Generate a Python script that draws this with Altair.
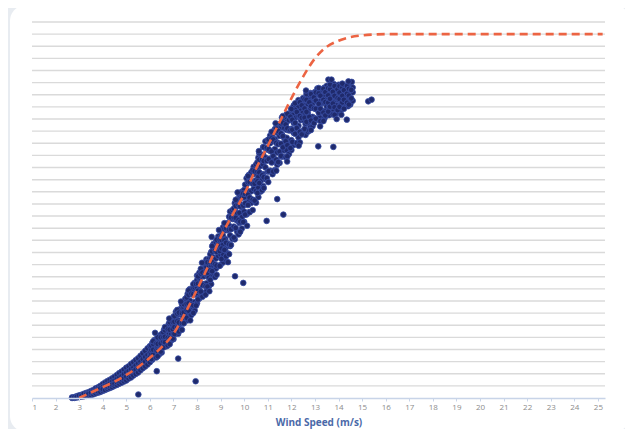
import altair as alt
import pandas as pd

# ---------------- data ----------------
x_ticks = list(range(1, 26))
grid_levels = [100 * i for i in range(1, 32)]  # horizontal guide lines (no labels)

# manufacturer power curve (dashed)
curve_ws = [3, 3.5, 4, 4.5, 5, 5.5, 6, 6.5, 7, 7.5, 8, 8.5, 9, 9.5, 10, 10.5, 11,
            11.5, 12, 12.5, 13, 13.5, 14, 14.5, 15, 15.5, 16, 20, 25.2]
curve_kw = [0, 45, 90, 135, 190, 255, 332, 420, 530, 702, 895, 1100, 1325, 1510, 1680,
            1890, 2080, 2275, 2470, 2650, 2800, 2895, 2945, 2975, 2990, 2997, 3000, 3000, 3000]

# measured 10-min points, grouped by wind speed (m/s -> kW values)
scatter_columns = {
    2.7: [0, 5], 2.8: [1, 8], 2.9: [4, 15, 9], 3.0: [7, 22], 3.1: [11, 27, 17],
    3.2: [14, 35], 3.3: [18, 42, 30], 3.4: [22, 48, 36], 3.5: [25, 58, 44],
    3.6: [30, 66, 50], 3.7: [38, 80, 60], 3.8: [44, 88, 70, 55], 3.9: [50, 100, 80],
    4.0: [58, 115, 90, 72], 4.1: [66, 128, 98], 4.2: [75, 140, 110, 92],
    4.3: [82, 150, 120, 100], 4.4: [90, 162, 135, 110], 4.5: [100, 175, 142, 118],
    4.6: [108, 190, 155, 130], 4.7: [118, 205, 168, 140], 4.8: [126, 218, 180, 152],
    4.9: [136, 232, 196, 160], 5.0: [145, 250, 210, 175], 5.1: [160, 262, 222, 190],
    5.2: [170, 280, 238, 205], 5.3: [185, 295, 250, 222], 5.4: [198, 312, 268, 235],
    5.5: [210, 328, 285, 250], 5.6: [228, 348, 300, 268], 5.7: [245, 368, 320, 282],
    5.8: [260, 388, 338, 300], 5.9: [276, 410, 355, 318], 6.0: [295, 428, 372, 338],
    6.1: [315, 357, 392, 426, 453], 6.2: [341, 384, 420, 455, 479],
    6.3: [371, 416, 452, 489], 6.4: [398, 440, 477, 515, 361],
    6.5: [375, 422, 464, 503, 528], 6.6: [422, 471, 502, 532, 563],
    6.7: [426, 472, 535, 567], 6.8: [476, 527, 570, 612],
    6.9: [474, 527, 571, 614, 648], 7.0: [530, 580, 625, 670, 485],
    7.1: [531, 587, 634, 680, 711], 7.2: [530, 588, 641, 689, 721],
    7.3: [566, 620, 697, 735], 7.4: [614, 675, 714, 754, 793],
    7.5: [651, 714, 766, 818], 7.6: [693, 752, 805, 858, 640],
    7.7: [681, 748, 802, 857, 899], 7.8: [704, 766, 853, 897],
    7.9: [721, 791, 854, 912, 950], 8.0: [782, 854, 913, 971, 1010],
    8.1: [821, 894, 941, 987, 1034], 8.2: [866, 941, 1002, 1064],
    8.3: [864, 940, 1003, 1065, 1114], 8.4: [945, 1016, 1080, 1144, 881],
    8.5: [919, 992, 1094, 1144], 8.6: [939, 1020, 1093, 1160, 1204],
    8.7: [1010, 1092, 1159, 1226, 1271], 8.8: [1067, 1150, 1218, 1286],
    8.9: [1087, 1171, 1225, 1278, 1332], 9.0: [1098, 1183, 1253, 1323, 1377],
    9.1: [1187, 1266, 1337, 1407, 1117], 9.2: [1143, 1230, 1310, 1382, 1429],
    9.3: [1193, 1274, 1386, 1443], 9.4: [1252, 1341, 1415, 1488, 1537],
    9.5: [1311, 1402, 1476, 1550], 9.6: [1308, 1399, 1474, 1549, 1607],
    9.7: [1371, 1463, 1521, 1580, 1638], 9.8: [1443, 1527, 1603, 1678, 1367],
    9.9: [1397, 1490, 1574, 1651, 1701], 10.0: [1452, 1537, 1656, 1716],
    10.1: [1513, 1607, 1684, 1761, 1812], 10.2: [1531, 1625, 1703, 1780, 1840],
    10.3: [1609, 1704, 1782, 1860], 10.4: [1627, 1723, 1784, 1845, 1906],
    10.5: [1610, 1706, 1794, 1873, 1925], 10.6: [1735, 1823, 1902, 1981, 1656],
    10.7: [1702, 1790, 1914, 1976], 10.8: [1748, 1846, 1926, 2006, 2068],
    10.9: [1803, 1901, 1982, 2062, 2116], 11.0: [1867, 1966, 2047, 2128],
    11.1: [1874, 1974, 2037, 2101, 2164], 11.2: [1845, 1945, 2036, 2118, 2173],
    11.3: [1961, 2053, 2135, 2218, 1879], 11.4: [1923, 2024, 2107, 2189, 2254],
    11.5: [1938, 2031, 2161, 2225], 11.6: [1989, 2091, 2174, 2258, 2313],
    11.7: [2040, 2142, 2225, 2308], 11.8: [2044, 2146, 2211, 2276, 2341],
    11.9: [2012, 2114, 2206, 2290, 2345], 12.0: [2127, 2220, 2303, 2387, 2044],
    12.1: [2085, 2185, 2267, 2349, 2413], 12.2: [2099, 2188, 2314, 2376],
    12.3: [2148, 2245, 2324, 2403, 2456], 12.4: [2196, 2291, 2369, 2447],
    12.5: [2201, 2294, 2354, 2414, 2473], 12.6: [2169, 2260, 2343, 2418, 2468],
    12.7: [2269, 2350, 2423, 2496, 2196], 12.8: [2231, 2318, 2389, 2460, 2515],
    12.9: [2241, 2318, 2426, 2480], 13.0: [2305, 2387, 2455, 2523],
    13.1: [2295, 2376, 2442, 2508, 2552], 13.2: [2314, 2393, 2444, 2494, 2545],
    13.3: [2284, 2362, 2432, 2496, 2538], 13.4: [2366, 2435, 2497, 2559, 2304],
    13.5: [2330, 2404, 2465, 2526, 2573], 13.6: [2332, 2398, 2491, 2537],
    13.7: [2380, 2451, 2509, 2567], 13.8: [2368, 2438, 2495, 2551, 2589],
    13.9: [2346, 2414, 2475, 2531, 2567], 14.0: [2391, 2457, 2499, 2541, 2583],
    14.1: [2422, 2479, 2530, 2582, 2371], 14.2: [2391, 2451, 2499, 2548],
    14.3: [2426, 2482, 2528, 2574], 14.4: [2405, 2453, 2520, 2553],
    14.5: [2420, 2470, 2530, 2575], 14.6: [2450, 2520, 2560],
}

# further points lying between the bins above
scatter_between = {
    6.06: [321, 362, 397, 431], 6.14: [359, 398, 445, 468], 6.27: [334, 390, 450],
    6.33: [385, 446, 500, 344], 6.46: [383, 450, 500], 6.57: [416, 463, 502, 541],
    6.64: [460, 505, 558, 585], 6.76: [433, 497, 566], 6.84: [492, 563, 625, 444],
    6.97: [490, 568, 627], 7.04: [528, 584, 629, 675], 7.16: [580, 632, 695, 726],
    7.23: [548, 623, 704], 7.36: [618, 700, 772, 562], 7.44: [616, 706, 774],
    7.56: [661, 724, 777, 829], 7.64: [720, 780, 851, 887], 7.76: [684, 769, 861],
    7.84: [763, 857, 938, 701], 7.96: [762, 864, 941], 8.04: [812, 884, 943, 1002],
    8.16: [877, 944, 1025, 1065], 8.23: [835, 931, 1034], 8.36: [922, 1027, 1118, 852],
    8.44: [919, 1033, 1119], 8.56: [973, 1053, 1119, 1185], 8.64: [1045, 1119, 1208, 1252],
    8.76: [997, 1102, 1215], 8.83: [1092, 1206, 1305, 1016], 8.96: [1089, 1212, 1304],
    9.04: [1147, 1232, 1303, 1373], 9.16: [1221, 1300, 1395, 1442], 9.23: [1168, 1280, 1400],
    9.36: [1267, 1388, 1494, 1186], 9.44: [1261, 1392, 1490], 9.56: [1323, 1413, 1488, 1562],
    9.64: [1402, 1485, 1584, 1634], 9.76: [1349, 1466, 1592], 9.83: [1454, 1580, 1689, 1370],
    9.96: [1451, 1586, 1687], 10.04: [1512, 1606, 1683, 1759], 10.16: [1591, 1676, 1779, 1830],
    10.23: [1532, 1652, 1781], 10.36: [1636, 1766, 1878, 1549], 10.44: [1628, 1767, 1871],
    10.56: [1690, 1786, 1865, 1944], 10.64: [1772, 1860, 1965, 2018], 10.76: [1712, 1836, 1969],
    10.83: [1820, 1954, 2069, 1731], 10.96: [1813, 1956, 2063], 11.04: [1871, 1970, 2051, 2132],
    11.16: [1942, 2032, 2141, 2195], 11.23: [1867, 1994, 2131], 11.36: [1965, 2103, 2222, 1874],
    11.44: [1945, 2092, 2202], 11.56: [1996, 2097, 2181, 2264], 11.64: [2066, 2159, 2270, 2325],
    11.76: [1986, 2116, 2255], 11.83: [2084, 2223, 2343, 1992], 11.96: [2060, 2208, 2319],
    12.04: [2111, 2212, 2294, 2376], 12.16: [2178, 2268, 2376, 2430], 12.23: [2102, 2226, 2358],
    12.36: [2194, 2325, 2438, 2107], 12.44: [2173, 2310, 2413], 12.56: [2219, 2311, 2387, 2462],
    12.64: [2277, 2359, 2458, 2507], 12.76: [2206, 2318, 2438], 12.83: [2287, 2404, 2506, 2209],
    12.96: [2266, 2388, 2479], 13.04: [2303, 2385, 2452, 2519], 13.16: [2352, 2425, 2512, 2556],
    13.23: [2284, 2384, 2492], 13.36: [2353, 2458, 2549, 2283], 13.44: [2330, 2440, 2522],
    13.56: [2361, 2435, 2495, 2555], 13.64: [2402, 2467, 2546, 2585], 13.76: [2338, 2428, 2524],
    13.83: [2397, 2491, 2572, 2335], 13.96: [2374, 2472, 2545], 14.04: [2401, 2465, 2518, 2571],
    14.16: [2437, 2492, 2559, 2592], 14.23: [2385, 2459, 2538], 14.36: [2435, 2509, 2573],
    14.44: [2419, 2493, 2549], 14.54: [2470, 2540],
}

# scattered points on the ragged edges of the band and isolated points
outlier_ws = [7.94, 5.51, 7.2, 6.22, 6.29, 8.62, 9.96, 11.66, 9.61, 13.78, 14.35,
              15.26, 15.4, 13.57, 13.7, 14.56, 13.14, 12.0,
              6.82, 7.32, 7.71, 8.21, 8.52, 8.93, 9.31, 9.72, 10.12, 10.62, 11.02,
              11.33, 11.82, 12.31, 12.62, 13.22, 14.12, 14.42, 13.92, 10.95, 11.4]
outlier_kw = [138, 29, 325, 537, 221, 1328, 949, 1512, 1004, 2070, 2295,
              2446, 2460, 2625, 2625, 2606, 2075, 2383,
              655, 795, 640, 1115, 880, 1385, 1120, 1695, 1420, 2035, 1780,
              2265, 1950, 2080, 2535, 2240, 2335, 2610, 2300, 1460, 1640]

# ---------------- tables ----------------
rows = [(ws, kw) for ws, vals in scatter_columns.items() for kw in vals]
rows += [(ws, kw) for ws, vals in scatter_between.items() for kw in vals]
rows += list(zip(outlier_ws, outlier_kw))
scatter_df = pd.DataFrame(rows, columns=["ws", "kw"])
curve_df = pd.DataFrame({"ws": curve_ws, "kw": curve_kw})
grid_df = pd.DataFrame({"kw": grid_levels})

W, H = 573, 376
xscale = alt.Scale(domain=[1, 25.3], nice=False, zero=False)
yscale = alt.Scale(domain=[0, 3100], nice=False)

x_axis = alt.Axis(
    values=x_ticks, format="d", title="Wind Speed (m/s)", grid=False,
    domainColor="#c8d4e8", domainWidth=1.5, tickColor="#c8d4e8", tickSize=3,
    labelFontSize=8, labelColor="#8c8c8c", labelPadding=2, labelFont="Open Sans",
    titleFontSize=10, titleFontWeight="bold", titleColor="#4a69a8",
    titleFont="Open Sans", titlePadding=6, zindex=1,
)

card = alt.Chart(pd.DataFrame({"c": [0]})).mark_rect(
    fill="white", cornerRadius=16
).encode(
    x=alt.value(-22), x2=alt.value(598), y=alt.value(-17), y2=alt.value(410)
)

grid = alt.Chart(grid_df).mark_rule(color="#dadada", strokeWidth=1.4).encode(
    y=alt.Y("kw:Q", scale=yscale, axis=None)
)

points = alt.Chart(scatter_df).mark_circle(
    size=32, fill="#1f2a6c", stroke="#3a4fa6", strokeWidth=0.8, opacity=1
).encode(
    x=alt.X("ws:Q", scale=xscale, axis=x_axis),
    y=alt.Y("kw:Q", scale=yscale, axis=None),
)

curve = alt.Chart(curve_df).mark_line(
    color="#ec6443", strokeWidth=2.6, strokeDash=[8, 5], interpolate="monotone"
).encode(
    x=alt.X("ws:Q", scale=xscale, axis=x_axis),
    y=alt.Y("kw:Q", scale=yscale, axis=None),
)

chart = alt.layer(card, grid, points, curve).properties(
    width=W, height=H,
    padding={"left": 24, "top": 14, "right": 20, "bottom": 31},
    autosize=alt.AutoSizeParams(type="none"),
    background="#e8ecf1",
).configure_view(stroke=None)

chart.save("out.html", embed_options={"renderer": "svg", "actions": False})
